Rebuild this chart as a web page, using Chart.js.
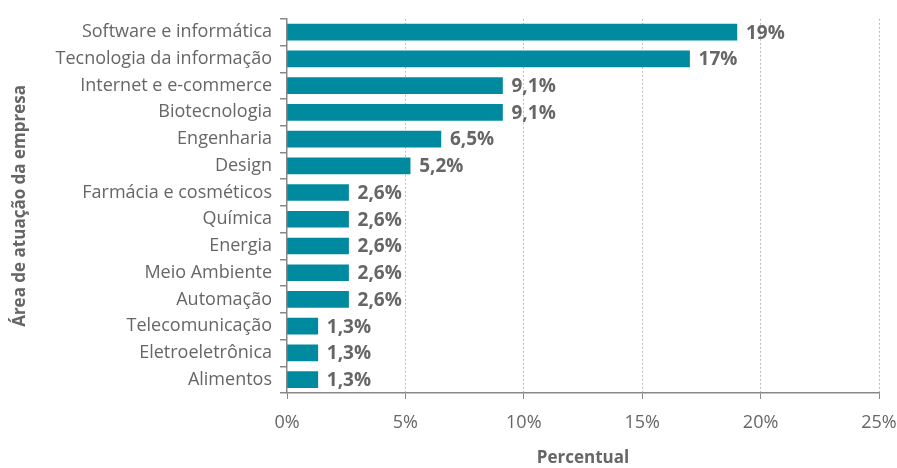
<!DOCTYPE html>
<html>
<head>
<meta charset="utf-8">
<script src="https://cdn.jsdelivr.net/npm/chart.js@4/dist/chart.umd.min.js"></script>
<style>
  html, body { margin: 0; padding: 0; background: #fff; }
  #wrap { width: 897px; height: 468px; }
</style>
</head>
<body>
<div id="wrap"><canvas id="chart" width="897" height="468"></canvas></div>
<script>
const areas = [
  "Software e informática",
  "Tecnologia da informação",
  "Internet e e-commerce",
  "Biotecnologia",
  "Engenharia",
  "Design",
  "Farmácia e cosméticos",
  "Química",
  "Energia",
  "Meio Ambiente",
  "Automação",
  "Telecomunicação",
  "Eletroeletrônica",
  "Alimentos",
];
const percentuais = [19, 17, 9.1, 9.1, 6.5, 5.2, 2.6, 2.6, 2.6, 2.6, 2.6, 1.3, 1.3, 1.3];
const xTicks = [0, 5, 10, 15, 20, 25];

const BAR_COLOR = "#008a9f";
const TEXT_GRAY = "#666666";
const FONT = "'Open Sans', 'Noto Sans', sans-serif";

function fmtPct(value) {
  const txt = Number.isInteger(value) ? String(value) : value.toFixed(1).replace(".", ",");
  return `${txt}%`;
}

// writes the percentage just past the end of each bar
const valueLabels = {
  id: "valueLabels",
  afterDatasetsDraw(chart) {
    const { ctx } = chart;
    const meta = chart.getDatasetMeta(0);
    ctx.save();
    ctx.font = `bold 19px ${FONT}`;
    ctx.fillStyle = TEXT_GRAY;
    ctx.textAlign = "left";
    ctx.textBaseline = "middle";
    meta.data.forEach((bar, i) => {
      ctx.fillText(fmtPct(percentuais[i]), bar.x + 9, bar.y + 1);
    });
    ctx.restore();
  },
};

new Chart(document.getElementById("chart"), {
  type: "bar",
  data: {
    labels: areas,
    datasets: [{
      data: percentuais,
      backgroundColor: BAR_COLOR,
      barThickness: 16,
    }],
  },
  plugins: [valueLabels],
  options: {
    indexAxis: "y",
    responsive: false,
    animation: false,
    layout: { padding: { left: 2, right: 2, top: 15, bottom: 0 } },
    plugins: {
      legend: { display: false },
      tooltip: { enabled: false },
    },
    scales: {
      x: {
        min: 0,
        max: 25,
        afterBuildTicks: (scale) => {
          scale.ticks = xTicks.map((v) => ({ value: v }));
        },
        afterFit: (scale) => {
          scale.height = 75;
          scale.paddingRight = 18;
        },
        ticks: {
          callback: (value) => `${value}%`,
          color: TEXT_GRAY,
          font: { family: FONT, size: 18 },
          padding: 13,
          maxRotation: 0,
        },
        grid: {
          color: (ctx) => (ctx.index === 0 ? "rgba(0,0,0,0)" : "#bdbdbd"),
          lineWidth: 1,
          tickColor: "#888888",
          tickLength: 6,
          tickBorderDash: [],
        },
        border: { color: "#888888", width: 1.5, dash: [2, 2] },
        title: {
          display: true,
          text: "Percentual",
          color: TEXT_GRAY,
          font: { family: FONT, size: 17, weight: "bold" },
          padding: { top: 0, bottom: 0 },
        },
      },
      y: {
        afterFit: (scale) => {
          scale.width = 285;
        },
        ticks: {
          color: TEXT_GRAY,
          font: { family: FONT, size: 18 },
          padding: 8,
        },
        grid: {
          offset: true,
          drawOnChartArea: false,
          color: "#888888",
          tickLength: 7,
          lineWidth: 1.5,
        },
        border: { color: "#888888", width: 1.5 },
        title: {
          display: true,
          text: "Área de atuação da empresa",
          color: TEXT_GRAY,
          font: { family: FONT, size: 17, weight: "bold" },
          padding: { top: 8, bottom: 0 },
        },
      },
    },
  },
});
</script>
</body>
</html>
